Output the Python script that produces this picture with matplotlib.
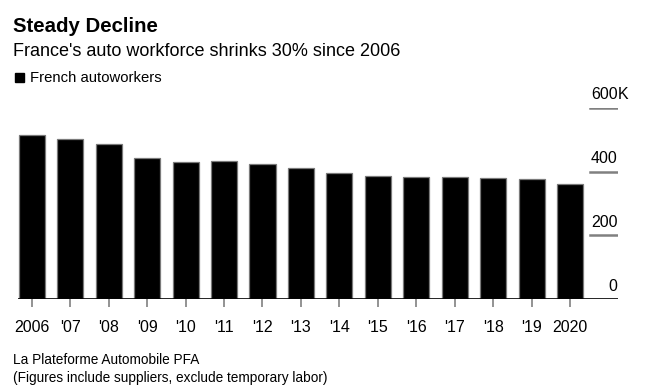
import matplotlib
matplotlib.use("Agg")
import matplotlib.pyplot as plt
from matplotlib import transforms

years = ["2006", "'07", "'08", "'09", "'10", "'11", "'12", "'13", "'14",
         "'15", "'16", "'17", "'18", "'19", "2020"]
workers = [514, 502, 486, 442, 430, 433, 424, 411, 396, 386, 383, 383, 380, 377, 362]
yticks = [0, 200, 400, 600]
ytick_labels = ["0", "200", "400", "600"]

plt.rcParams['font.family'] = ['Liberation Sans', 'DejaVu Sans']

W, H = 646, 387
fig = plt.figure(figsize=(W / 100, H / 100), dpi=100)
fig.patch.set_facecolor('white')

def fx(px):
    return px / W

def fy(py):
    return 1 - py / H

ax = fig.add_axes([fx(18), fy(299.3), fx(617.7) - fx(18), fy(107.7) - fy(299.3)])
x = list(range(len(years)))
ax.bar(x, workers, width=0.68, color='black', edgecolor='#7a7a7a', linewidth=0.9, zorder=2)
ax.set_xlim(-0.36, 15.24)
ax.set_ylim(0, 600)

for s in ax.spines.values():
    s.set_visible(False)
ax.axhline(0, color='black', lw=1.2, zorder=3)
ax.set_yticks([])
ax.set_xticks(x)
ax.set_xticklabels(years, fontsize=11.5)
ax.tick_params(axis='x', length=6, width=1.2, color='#808080', pad=9)

for yv, lab in zip(yticks, ytick_labels):
    if yv > 0:
        ax.axhline(yv, xmin=0.954, xmax=1.0, color='#808080', lw=1.8, zorder=1)
    tr = transforms.offset_copy(ax.get_yaxis_transform(), fig=fig, x=0, y=13, units='dots')
    ax.text(1.0, yv, lab, transform=tr, ha='right', va='center', fontsize=11.5, color='black')
    if yv == 600:
        ax.text(1.0, yv, "K", transform=tr, ha='left', va='center', fontsize=11.5, color='black')

fig.text(fx(13), fy(26), "Steady Decline", fontsize=14.7, fontweight='bold', ha='left', va='center')
fig.text(fx(13), fy(51), "France's auto workforce shrinks 30% since 2006", fontsize=13, ha='left', va='center')
fig.add_artist(plt.Rectangle((fx(15), fy(82.3)), fx(9.3), fy(72.7) - fy(82.3), color='black',
                             transform=fig.transFigure))
fig.text(fx(30.5), fy(77.5), "French autoworkers", fontsize=10.7, ha='left', va='center')

fig.text(fx(13.5), fy(360.5), "La Plateforme Automobile PFA", fontsize=9.8, ha='left', va='center')
fig.text(fx(13.5), fy(378), "(Figures include suppliers, exclude temporary labor)", fontsize=9.8, ha='left', va='center')

fig.savefig("out.png", dpi=100)
